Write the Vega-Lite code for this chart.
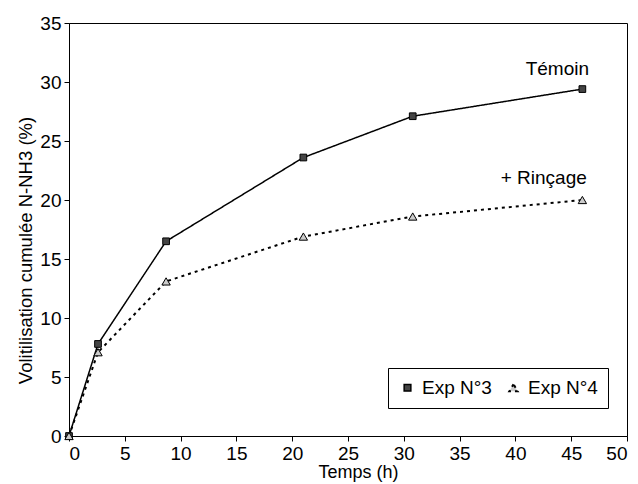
{
  "$schema": "https://vega.github.io/schema/vega-lite/v6.json",
  "width": 558,
  "height": 413,
  "autosize": {"type": "none"},
  "padding": {"left": 69, "top": 23, "right": 11, "bottom": 48},
  "background": "white",
  "config": {
    "font": "Liberation Sans",
    "view": {"stroke": "black", "strokeWidth": 1}
  },
  "datasets": {
    "series": [
      {"exp": "Exp N°3", "t": 0, "v": 0},
      {"exp": "Exp N°3", "t": 2.6, "v": 7.8},
      {"exp": "Exp N°3", "t": 8.7, "v": 16.5},
      {"exp": "Exp N°3", "t": 21, "v": 23.6},
      {"exp": "Exp N°3", "t": 30.8, "v": 27.1},
      {"exp": "Exp N°3", "t": 46, "v": 29.4},
      {"exp": "Exp N°4", "t": 0, "v": 0},
      {"exp": "Exp N°4", "t": 2.6, "v": 7.1},
      {"exp": "Exp N°4", "t": 8.7, "v": 13.1},
      {"exp": "Exp N°4", "t": 21, "v": 16.9},
      {"exp": "Exp N°4", "t": 30.8, "v": 18.6},
      {"exp": "Exp N°4", "t": 46, "v": 20.0}
    ],
    "labels": [
      {"label": "Témoin", "t": 46.6, "v": 31.1},
      {"label": "+ Rinçage", "t": 46.4, "v": 21.9}
    ]
  },
  "encoding": {
    "x": {
      "field": "t", "type": "quantitative",
      "scale": {"domain": [0, 50], "nice": false, "zero": false},
      "axis": {"title": "Temps (h)", "values": [0,5,10,15,20,25,30,35,40,45,50], "labelPadding": 3, "titlePadding": 0, "titleX": 289,
        "grid": false, "tickSize": 5, "domainColor": "black", "tickColor": "black", "labelColor": "black", "titleColor": "black",
        "labelFontSize": 19, "titleFontSize": 18, "titleFontWeight": "normal", "labelFont": "Liberation Sans", "titleFont": "Liberation Sans"}
    },
    "y": {
      "field": "v", "type": "quantitative",
      "scale": {"domain": [0, 35], "nice": false},
      "axis": {"title": "Volitilisation cumulée N-NH3 (%)", "values": [0,5,10,15,20,25,30,35], "labelPadding": 3, "titlePadding": 4, "titleY": 227,
        "grid": false, "tickSize": 5, "domainColor": "black", "tickColor": "black", "labelColor": "black", "titleColor": "black",
        "labelFontSize": 19, "titleFontSize": 18.5, "titleFontWeight": "normal", "labelFont": "Liberation Sans", "titleFont": "Liberation Sans"}
    }
  },
  "layer": [
    {
      "data": {"name": "series"},
      "mark": {"type": "line", "color": "black"},
      "encoding": {
        "strokeDash": {
          "field": "exp", "type": "nominal",
          "scale": {"domain": ["Exp N°3", "Exp N°4"], "range": [[1, 0], [3, 4]]},
          "legend": {
            "title": null,
            "orient": "none",
            "legendX": 319,
            "legendY": 345,
            "direction": "horizontal",
            "strokeColor": "black",
            "padding": 10,
            "labelFontSize": 19,
            "labelFont": "Liberation Sans",
            "labelColor": "black",
            "symbolStrokeColor": "black",
            "columnPadding": 12,
            "labelOffset": 5
          }
        },
        "strokeWidth": {
          "field": "exp", "type": "nominal",
          "scale": {"domain": ["Exp N°3", "Exp N°4"], "range": [1.5, 2]},
          "legend": null
        }
      }
    },
    {
      "data": {"name": "series"},
      "mark": {"type": "point", "filled": true, "stroke": "black", "strokeWidth": 1, "opacity": 1},
      "encoding": {
        "shape": {
          "field": "exp", "type": "nominal",
          "scale": {"domain": ["Exp N°3", "Exp N°4"], "range": ["square", "triangle-up"]},
          "legend": null
        },
        "fill": {
          "field": "exp", "type": "nominal",
          "scale": {"domain": ["Exp N°3", "Exp N°4"], "range": ["#444444", "#cccccc"]},
          "legend": null
        },
        "size": {
          "field": "exp", "type": "nominal",
          "scale": {"domain": ["Exp N°3", "Exp N°4"], "range": [45, 70]},
          "legend": null
        }
      }
    },
    {
      "data": {"name": "labels"},
      "mark": {"type": "text", "align": "right", "baseline": "middle", "fontSize": 19, "color": "black"},
      "encoding": {
        "text": {"field": "label", "type": "nominal"}
      }
    }
  ]
}
